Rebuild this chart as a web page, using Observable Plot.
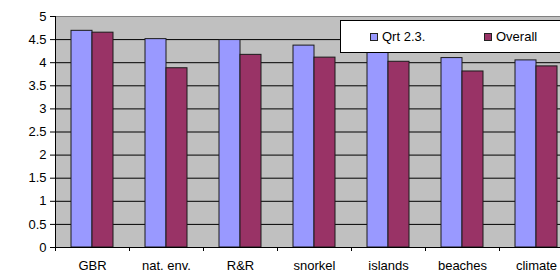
<!DOCTYPE html>
<html>
<head>
<meta charset="utf-8">
<script src="https://cdn.jsdelivr.net/npm/d3@7"></script>
<script src="https://cdn.jsdelivr.net/npm/@observablehq/plot@0.6"></script>
<style>
  body { margin: 0; background: white; }
  #wrap { position: relative; width: 560px; height: 273px; overflow: hidden; font-family: "Liberation Sans", Arial, sans-serif; }
  #legend { position: absolute; left: 340px; top: 20px; width: 240px; height: 31px; background: white; border: 1px solid black; font-size: 13px; }
  .item { position: absolute; top: 8px; display: flex; align-items: center; line-height: 15px; }
  .sw { width: 6px; height: 6px; border: 1px solid #222; margin-right: 4px; }
</style>
</head>
<body>
<div id="wrap"></div>
<script>
const categories = ["GBR", "nat. env.", "R&R", "snorkel", "islands", "beaches", "climate"];
const qrt = [4.69, 4.51, 4.49, 4.37, 4.22, 4.10, 4.05];
const overall = [4.65, 3.88, 4.17, 4.11, 4.02, 3.81, 3.92];
const seriesNames = ["Qrt 2.3.", "Overall"];
const seriesColors = ["#9999FF", "#993366"];
const yTicks = d3.range(0, 5.01, 0.5);

const qrtData = categories.map((c, i) => ({cat: c, v: qrt[i]}));
const overallData = categories.map((c, i) => ({cat: c, v: overall[i]}));

const chart = Plot.plot({
  width: 560,
  height: 273,
  marginLeft: 55,
  marginTop: 16,
  marginBottom: 26,
  marginRight: 0,
  style: {fontFamily: '"Liberation Sans", Arial, sans-serif', fontSize: "13px", color: "black", background: "white", overflow: "hidden"},
  x: {domain: categories, range: [55, 573], padding: 0, label: null},
  y: {domain: [0, 5], label: null},
  marks: [
    Plot.frame({fill: "#C0C0C0", stroke: null}),
    Plot.ruleY(yTicks.filter(t => t > 0 && t < 5), {stroke: "black", strokeWidth: 1}),
    Plot.ruleY([5], {stroke: "#808080"}),
    Plot.barY(qrtData, {x: "cat", y: "v", fill: seriesColors[0], stroke: "#1a1a1a", strokeWidth: 1, insetLeft: 16, insetRight: 37}),
    Plot.barY(overallData, {x: "cat", y: "v", fill: seriesColors[1], stroke: "#1a1a1a", strokeWidth: 1, insetLeft: 37, insetRight: 16}),
    Plot.ruleY([0], {stroke: "black"}),
    Plot.ruleX(categories, {x: d => d, dx: -37, y1: 0, y2: 0, insetBottom: -4, stroke: "black"}),
    Plot.axisY({ticks: yTicks, tickSize: 5, tickPadding: 4, stroke: "black", fill: "black", label: null, tickFormat: d => String(d)}),
    Plot.axisX({tickSize: 0, tickPadding: 13, fill: "black", label: null})
  ]
});

const wrap = document.getElementById("wrap");
wrap.appendChild(chart);
// left axis line
const svg = d3.select(chart);
const ys = chart.scale("y");
svg.append("line").attr("x1", 55.5).attr("x2", 55.5).attr("y1", ys.apply(5)).attr("y2", ys.apply(0)).attr("stroke", "black");

const legend = document.createElement("div");
legend.id = "legend";
const lefts = [29, 143];
seriesNames.forEach((n, i) => {
  const it = document.createElement("div");
  it.className = "item";
  it.style.left = lefts[i] + "px";
  const sw = document.createElement("div");
  sw.className = "sw";
  sw.style.background = seriesColors[i];
  const t = document.createElement("span");
  t.textContent = n;
  it.appendChild(sw);
  it.appendChild(t);
  legend.appendChild(it);
});
wrap.appendChild(legend);
</script>
</body>
</html>
